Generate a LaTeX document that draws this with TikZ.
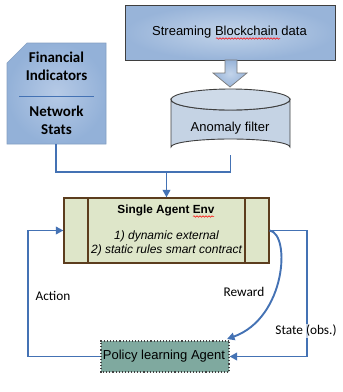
\documentclass[tikz,border=0pt]{standalone}
\usepackage{fontspec}
\setmainfont{Liberation Sans}
\newfontfamily\calfont{Carlito}
\usetikzlibrary{arrows.meta,shapes.misc,decorations.pathmorphing}

\definecolor{linkblue}{HTML}{4472B4}
\definecolor{boxedge}{HTML}{3F3F3F}
\definecolor{streamin}{HTML}{C3D4EA}
\definecolor{streamout}{HTML}{98B4D9}
\definecolor{finin}{HTML}{B6CAE6}
\definecolor{finout}{HTML}{93B1D8}
\definecolor{cylbody}{HTML}{C5D3E4}
\definecolor{envfill}{HTML}{DEE6C9}
\definecolor{envedge}{HTML}{5C3D1E}
\definecolor{agentfill}{HTML}{7FA99F}

\tikzset{
  txt/.style={font=\fontsize{13}{15}\selectfont, inner sep=0pt},
  caltxt/.style={font=\calfont\fontsize{13.3}{15}\selectfont, inner sep=1pt},
  finText/.style={font=\calfont\bfseries\fontsize{15}{18}\selectfont, align=center, inner sep=0pt},
  streambox/.style={draw=boxedge, line width=0.9pt, inner color=streamin, outer color=streamout},
  bigarrow/.style={draw=boxedge!70, line width=0.7pt, inner color=streamin, outer color=streamout},
  finbox/.style={draw=finout!90!black, line width=0.6pt, inner color=finin, outer color=finout},
  divider/.style={draw=linkblue, line width=0.8pt},
  cylline/.style={draw=boxedge, line width=0.9pt},
  envbox/.style={draw=envedge, line width=1.2pt, fill=envfill},
  agentbox/.style={chamfered rectangle, chamfered rectangle xsep=5pt, chamfered rectangle ysep=5pt,
    fill=agentfill, draw=black!75, dotted, line width=1.1pt},
  link/.style={draw=linkblue, line width=1.9pt},
  arr/.style={-{Triangle[length=7.5pt,width=7.5pt]}},
  squiggle/.style={draw=red, line width=0.5pt, decorate,
    decoration={snake, amplitude=0.8pt, segment length=3pt}},
}

\begin{document}
\begin{tikzpicture}[x=1pt,y=-1pt]
\useasboundingbox (0,0) rectangle (343,392);

% data source at the top
\node[streambox, minimum width=210pt, minimum height=55pt, inner sep=0pt] (stream) at (230,32.5) {};
\node[txt] (streamtxt) at (229.5,32) {Streaming Blockchain data};
\draw[squiggle] (216,38.5) -- (280,38.5);

% block arrow from the stream into the filter
\draw[bigarrow] (225,60) -- (237,60) -- (237,73) -- (247,73) -- (230,87)
  -- (213,73) -- (225,73) -- cycle;

% anomaly filter drum
\draw[cylline, fill=cylbody] (171,99.5) -- (171,147)
  arc[start angle=180, end angle=360, x radius=59.5, y radius=8]
  -- (290,99.5)
  arc[start angle=0, end angle=180, x radius=59.5, y radius=10.5] -- cycle;
\draw[cylline, fill=cylbody!85!white] (230.5,99.5) ellipse[x radius=59.5, y radius=10.5];
\node[txt] (filter) at (230,128) {Anomaly filter};
\coordinate (filterbottom) at (230.5,155);

% indicator card with clipped corner
\draw[finbox] (7,63) -- (27,43) -- (106,43) -- (106,144) -- (7,144) -- cycle;
\draw[divider] (19,96) -- (94,96);
\node[finText] (fin) at (56.5,66) {Financial\\Indicators};
\node[finText] (net) at (56.5,120) {Network\\Stats};
\coordinate (finbottom) at (56,144);

% environment
\node[envbox, minimum width=205pt, minimum height=65pt, inner sep=0pt] (env) at (166.5,230.5) {};
\draw[envedge, line width=1.2pt] (88,198) -- (88,263) (245,198) -- (245,263);
\node[txt, font=\bfseries\fontsize{11.8}{14}\selectfont] (envtitle) at (166,210) {Single Agent Env};
\draw[squiggle] (193,216.5) -- (214,216.5);
\node[txt, font=\itshape\fontsize{12}{13.3}\selectfont, align=center] (envrules) at (166.5,243.4)
  {1) dynamic external\\2) static rules smart contract};

% agent
\node[agentbox, minimum width=128pt, minimum height=31pt, inner sep=0pt] (agent) at (165,356.5) {};
\node[txt] (agenttxt) at (164,356.5) {Policy learning Agent};

% inputs merging into the environment
\coordinate (join) at (166.5,172);
\draw[link] (finbottom) |- (join) -| (filterbottom);
\draw[link, arr] (join) -- (env.north);

% agent/environment loop
\draw[link, arr] (agent.west) -- (28,356.5) |- (env.west);
\draw[link, arr] (env.east) -- (307,230.5) |- (agent.east);
\coordinate (rewardtip) at (227,339);
\draw[link, arr] (env.east) .. controls (291,234) and (286,318) .. (rewardtip);

% edge labels
\node[caltxt] (action) at (53,296) {Action};
\node[caltxt] (reward) at (244,292) {Reward};
\node[caltxt, fill=white, fill opacity=0.7, text opacity=1] (state) at (306,331) {State (obs.)};
\end{tikzpicture}
\end{document}
